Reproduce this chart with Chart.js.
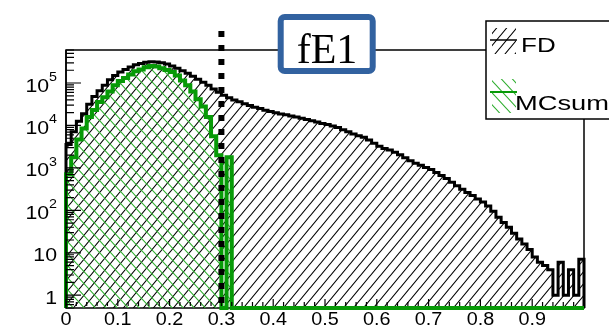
<!DOCTYPE html>
<html>
<head>
<meta charset="utf-8">
<title>fE1</title>
<script src="https://cdn.jsdelivr.net/npm/chart.js@4.4.1/dist/chart.umd.min.js"></script>
<style>
  html, body { margin: 0; padding: 0; background: #fff; }
  #wrap { width: 609px; height: 331px; overflow: hidden; }
</style>
</head>
<body>
<div id="wrap"><canvas id="fe1Chart" width="609" height="331"></canvas></div>
<script>
// fE1 distribution: data (FD) against summed MC, 100 bins of 0.01 on [0, 1]
const binWidth = 0.01;

const fdCounts = [
    3550, 7080, 12600, 19000, 31600, 47900, 66100, 89100, 120000, 151000,
    182000, 209000, 240000, 269000, 288000, 309000, 316000, 314000, 302000, 282000,
    251000, 224000, 195000, 170000, 145000, 123000, 105000, 89100, 72400, 60300,
    51300, 44700, 39800, 36300, 32400, 29500, 26900, 25100, 22900, 21400,
    20000, 18600, 17800, 16600, 15800, 14800, 13800, 12900, 12000, 11200,
    10500, 9770, 8910, 7940, 7080, 6310, 5750, 5250, 4570, 3800,
    3240, 2880, 2630, 2340, 2040, 1740, 1480, 1290, 1150, 1020,
    912, 776, 661, 562, 457, 380, 316, 263, 224, 186,
    158, 126, 95, 69, 52, 40, 29, 21, 16, 12,
    8, 6, 5, 4, 1, 6, 1, 4, 1, 7
];

const mcSumCounts = [
    708, 1780, 4700, 8500, 15800, 23000, 35500, 46000, 63000, 89000,
    112000, 132000, 158000, 190000, 209000, 234000, 251000, 245000, 224000, 204000,
    182000, 151000, 115000, 89100, 63100, 41700, 28000, 15800, 5600, 2000,
    0, 1780, 0, 0, 0, 0, 0, 0, 0, 0,
    0, 0, 0, 0, 0, 0, 0, 0, 0, 0,
    0, 0, 0, 0, 0, 0, 0, 0, 0, 0,
    0, 0, 0, 0, 0, 0, 0, 0, 0, 0,
    0, 0, 0, 0, 0, 0, 0, 0, 0, 0,
    0, 0, 0, 0, 0, 0, 0, 0, 0, 0,
    0, 0, 0, 0, 0, 0, 0, 0, 0, 0
];

const cutValue = 0.3;
const titleText = 'fE1';

const xTickValues = [0, 0.1, 0.2, 0.3, 0.4, 0.5, 0.6, 0.7, 0.8, 0.9];
const xTickLabels = ['0', '0.1', '0.2', '0.3', '0.4', '0.5', '0.6', '0.7', '0.8', '0.9'];
const yTickValues = [1, 10, 100, 1000, 10000, 100000];
const yTickLabels = ['1', '10', '10^2', '10^3', '10^4', '10^5'];
const yRange = [0.5, 6e5];

const fdColor = '#000000';
const mcColor = '#079a07';
const mcHatchColor = '#2fae2f';
const titleBlue = '#3262a0';

// diagonal hatch tile, '/' or '\'
function makeHatch(color, dir, w, h, lw) {
    const c = document.createElement('canvas');
    c.width = w;
    c.height = h;
    const g = c.getContext('2d');
    g.strokeStyle = color;
    g.lineWidth = lw;
    g.beginPath();
    for (let k = -1; k <= 1; k++) {
        if (dir === '/') {
            g.moveTo(k * w - w, 2 * h);
            g.lineTo(k * w + 2 * w, -h);
        } else {
            g.moveTo(k * w - w, -h);
            g.lineTo(k * w + 2 * w, 2 * h);
        }
    }
    g.stroke();
    return document.createElement('canvas').getContext('2d').createPattern(c, 'repeat');
}

const fdHatch = makeHatch(fdColor, '/', 10, 12, 1.1);
const mcHatch = makeHatch(mcHatchColor, '\\', 11, 12, 1.1);

// step outline points at bin edges; empty bins sit on the axis floor
function histPoints(counts) {
    const floor = yRange[0];
    const val = c => (c > 0 ? c : floor);
    const pts = [{ x: 0, y: floor }];
    counts.forEach((c, i) => pts.push({ x: +(i * binWidth).toFixed(2), y: val(c) }));
    pts.push({ x: +(counts.length * binWidth).toFixed(2), y: val(counts[counts.length - 1]) });
    pts.push({ x: +(counts.length * binWidth).toFixed(2), y: floor });
    return pts;
}

function stretchedText(ctx, text, x, y, font, sx, align) {
    ctx.save();
    ctx.font = font;
    ctx.translate(x, y);
    ctx.scale(sx, 1);
    ctx.textAlign = align;
    ctx.textBaseline = 'alphabetic';
    ctx.fillText(text, 0, 0);
    ctx.restore();
}

const rootStylePlugin = {
    id: 'rootStyle',
    beforeDatasetsDraw(chart) {
        const { ctx, chartArea: a } = chart;
        ctx.save();
        ctx.strokeStyle = '#000';
        ctx.lineWidth = 1.5;
        ctx.strokeRect(a.left, a.top, a.right - a.left, a.bottom - a.top);
        ctx.restore();
    },
    afterDatasetsDraw(chart) {
        const { ctx, chartArea: a } = chart;
        const xs = chart.scales.x;
        const ys = chart.scales.y;
        ctx.save();
        ctx.strokeStyle = '#000';
        ctx.fillStyle = '#000';

        // left frame edge over the histogram outlines
        ctx.lineWidth = 1.5;
        ctx.beginPath();
        ctx.moveTo(a.left, a.top);
        ctx.lineTo(a.left, a.bottom);
        ctx.stroke();

        // inner ticks, x axis
        ctx.lineWidth = 1.2;
        ctx.beginPath();
        for (let i = 0; i <= 50; i++) {
            const px = xs.getPixelForValue(i * 0.02);
            const len = i % 5 === 0 ? 7 : 4;
            ctx.moveTo(px, a.bottom - 2);
            ctx.lineTo(px, a.bottom - 2 - len);
        }
        // inner ticks, log y axis
        for (let e = -1; e <= 5; e++) {
            for (let m = 1; m <= 9; m++) {
                const v = m * Math.pow(10, e);
                if (v < yRange[0] || v > yRange[1]) continue;
                const py = ys.getPixelForValue(v);
                const len = m === 1 ? 15 : 8;
                ctx.moveTo(a.left, py);
                ctx.lineTo(a.left + len, py);
            }
        }
        ctx.stroke();

        // tick labels
        xTickValues.forEach((v, i) => {
            stretchedText(ctx, xTickLabels[i], xs.getPixelForValue(v), 325, '18px "Liberation Sans", Arial, sans-serif', 1.1, 'center');
        });
        yTickValues.forEach((v, i) => {
            const py = ys.getPixelForValue(v);
            const [base, exp] = yTickLabels[i].split('^');
            const right = 57;
            let baseRight = right;
            if (exp) {
                ctx.font = '13px "Liberation Sans", Arial, sans-serif';
                const ew = ctx.measureText(exp).width * 1.1;
                stretchedText(ctx, exp, right, py - 2, ctx.font, 1.1, 'right');
                baseRight = right - ew;
            }
            stretchedText(ctx, base, baseRight, py + 8.5, '19px "Liberation Sans", Arial, sans-serif', 1.12, 'right');
        });

        // cut position
        const cx = xs.getPixelForValue(cutValue);
        ctx.lineWidth = 6;
        ctx.setLineDash([6, 8]);
        ctx.beginPath();
        ctx.moveTo(cx, 31);
        ctx.lineTo(cx, a.bottom);
        ctx.stroke();
        ctx.setLineDash([]);

        // title box
        ctx.fillStyle = '#fff';
        ctx.strokeStyle = titleBlue;
        ctx.lineWidth = 6;
        ctx.beginPath();
        ctx.roundRect(280.7, 17, 92, 54, 4);
        ctx.fill();
        ctx.stroke();
        ctx.fillStyle = '#000';
        ctx.font = '42px "Liberation Serif", "Times New Roman", serif';
        ctx.textAlign = 'center';
        ctx.textBaseline = 'alphabetic';
        ctx.fillText(titleText, 327, 63);

        // legend
        ctx.fillStyle = '#fff';
        ctx.strokeStyle = '#000';
        ctx.lineWidth = 1.5;
        ctx.fillRect(486, 21, 140, 98);
        ctx.strokeRect(486, 21, 140, 98);

        const fdSet = chart.data.datasets[1];
        const mcSet = chart.data.datasets[0];
        ctx.fillStyle = fdSet.backgroundColor;
        ctx.fillRect(492, 28, 24, 26);
        ctx.strokeStyle = fdSet.borderColor;
        ctx.beginPath();
        ctx.moveTo(490, 40);
        ctx.lineTo(517, 40);
        ctx.stroke();
        ctx.fillStyle = mcSet.backgroundColor;
        ctx.fillRect(492, 79, 24, 34);
        ctx.strokeStyle = mcSet.borderColor;
        ctx.lineWidth = 2;
        ctx.beginPath();
        ctx.moveTo(490, 92);
        ctx.lineTo(517, 92);
        ctx.stroke();

        ctx.fillStyle = '#000';
        stretchedText(ctx, fdSet.label, 521, 52, '20px "Liberation Sans", Arial, sans-serif', 1.3, 'left');
        stretchedText(ctx, mcSet.label, 515, 110, '21px "Liberation Sans", Arial, sans-serif', 1.3, 'left');
        ctx.restore();
    }
};

const ctx = document.getElementById('fe1Chart').getContext('2d');

new Chart(ctx, {
    type: 'line',
    data: {
        datasets: [{
            label: 'MCsum',
            data: histPoints(mcSumCounts),
            stepped: 'before',
            borderColor: mcColor,
            borderWidth: 4,
            backgroundColor: mcHatch,
            fill: 'start',
            pointRadius: 0,
            clip: 6,
            order: 1
        }, {
            label: 'FD',
            data: histPoints(fdCounts),
            stepped: 'before',
            borderColor: fdColor,
            borderWidth: 3,
            backgroundColor: fdHatch,
            fill: 'start',
            pointRadius: 0,
            clip: 6,
            order: 2
        }]
    },
    options: {
        responsive: false,
        animation: false,
        devicePixelRatio: 1,
        layout: { padding: { top: 50, right: 25, left: 0, bottom: 0 } },
        plugins: {
            legend: { display: false },
            tooltip: { enabled: false },
            title: { display: false }
        },
        scales: {
            x: {
                type: 'linear',
                min: 0,
                max: 1,
                grid: { display: false },
                border: { display: false },
                ticks: { display: false },
                afterFit: scale => { scale.height = 23; }
            },
            y: {
                type: 'logarithmic',
                min: yRange[0],
                max: yRange[1],
                grid: { display: false },
                border: { display: false },
                ticks: { display: false },
                afterFit: scale => { scale.width = 66; }
            }
        }
    },
    plugins: [rootStylePlugin]
});
</script>
</body>
</html>
